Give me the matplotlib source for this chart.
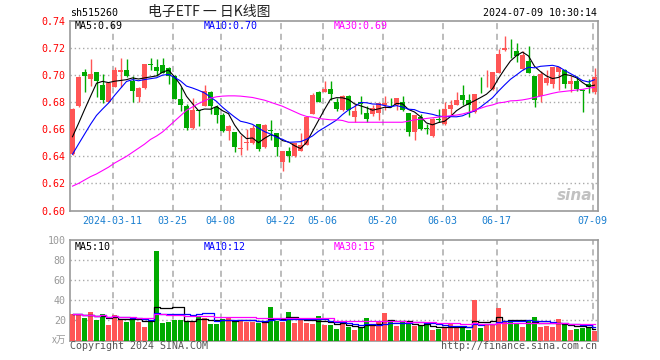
import matplotlib
matplotlib.use("Agg")
import matplotlib.pyplot as plt
import numpy as np
import pandas as pd

# candle data, one entry per trading day (2024-02-29 .. 2024-07-09)
opens = [0.6415, 0.6773, 0.7020, 0.6968, 0.7020, 0.6926, 0.6802, 0.6916, 0.7020, 0.7040,
         0.6960, 0.6835, 0.6904, 0.7081, 0.7057, 0.7072, 0.7052, 0.6990, 0.6825, 0.6773,
         0.6607, 0.6745, 0.6773, 0.6877, 0.6768, 0.6706, 0.6588, 0.6580, 0.6457, 0.6496,
         0.6496, 0.6637, 0.6466, 0.6592, 0.6570, 0.6355, 0.6442, 0.6400, 0.6440, 0.6484,
         0.6713, 0.6879, 0.6879, 0.6899, 0.6805, 0.6743, 0.6849, 0.6689, 0.6800, 0.6723,
         0.6713, 0.6723, 0.6780, 0.6780, 0.6780, 0.6805, 0.6718, 0.6583, 0.6689, 0.6603,
         0.6550, 0.6670, 0.6637, 0.6753, 0.6780, 0.6854, 0.6817, 0.6731, 0.6897, 0.6939,
         0.6896, 0.7015, 0.7183, 0.7207, 0.7180, 0.7047, 0.7101, 0.6990, 0.6849, 0.6941,
         0.6936, 0.7022, 0.7040, 0.6933, 0.6958, 0.6884, 0.6933, 0.6876]
highs = [0.6755, 0.6990, 0.7044, 0.7121, 0.7022, 0.7010, 0.6950, 0.7057, 0.7126, 0.7121,
         0.6990, 0.6910, 0.7079, 0.7128, 0.7121, 0.7126, 0.7060, 0.7002, 0.6911, 0.6785,
         0.6830, 0.6745, 0.6928, 0.6880, 0.6780, 0.6718, 0.6630, 0.6582, 0.6558, 0.6602,
         0.6632, 0.6640, 0.6637, 0.6669, 0.6572, 0.6442, 0.6466, 0.6498, 0.6570, 0.6689,
         0.6866, 0.6884, 0.6960, 0.6960, 0.6830, 0.6854, 0.6851, 0.6788, 0.6849, 0.6773,
         0.6780, 0.6797, 0.6847, 0.6830, 0.6832, 0.6847, 0.6723, 0.6706, 0.6713, 0.6637,
         0.6680, 0.6748, 0.6798, 0.6817, 0.6879, 0.6928, 0.6862, 0.6864, 0.6985, 0.7040,
         0.7022, 0.7193, 0.7291, 0.7267, 0.7237, 0.7175, 0.7212, 0.6992, 0.7027, 0.7040,
         0.7057, 0.7062, 0.7042, 0.6995, 0.6990, 0.6894, 0.6968, 0.7054]
lows = [0.6412, 0.6768, 0.6877, 0.6923, 0.6842, 0.6793, 0.6800, 0.6914, 0.6911, 0.6985,
        0.6798, 0.6798, 0.6900, 0.7040, 0.6990, 0.7015, 0.6933, 0.6825, 0.6738, 0.6595,
        0.6603, 0.6627, 0.6773, 0.6714, 0.6649, 0.6580, 0.6520, 0.6435, 0.6410, 0.6447,
        0.6489, 0.6439, 0.6460, 0.6521, 0.6402, 0.6289, 0.6355, 0.6398, 0.6438, 0.6482,
        0.6711, 0.6800, 0.6877, 0.6817, 0.6738, 0.6738, 0.6706, 0.6657, 0.6713, 0.6657,
        0.6699, 0.6669, 0.6743, 0.6765, 0.6743, 0.6738, 0.6550, 0.6520, 0.6595, 0.6565,
        0.6545, 0.6657, 0.6632, 0.6706, 0.6778, 0.6780, 0.6689, 0.6720, 0.6867, 0.6916,
        0.6891, 0.7013, 0.7181, 0.7126, 0.7096, 0.7040, 0.7013, 0.6768, 0.6798, 0.6928,
        0.6904, 0.6891, 0.6904, 0.6879, 0.6884, 0.6730, 0.6867, 0.6860]
closes = [0.6750, 0.6988, 0.6990, 0.7012, 0.6960, 0.6820, 0.6943, 0.7040, 0.7040, 0.6990,
          0.6884, 0.6904, 0.7079, 0.7078, 0.7027, 0.7017, 0.6990, 0.6825, 0.6780, 0.6607,
          0.6743, 0.6735, 0.6884, 0.6773, 0.6706, 0.6588, 0.6625, 0.6472, 0.6461, 0.6509,
          0.6612, 0.6452, 0.6632, 0.6590, 0.6466, 0.6442, 0.6400, 0.6496, 0.6485, 0.6689,
          0.6854, 0.6805, 0.6899, 0.6862, 0.6748, 0.6849, 0.6743, 0.6738, 0.6790, 0.6674,
          0.6760, 0.6792, 0.6797, 0.6777, 0.6830, 0.6743, 0.6583, 0.6706, 0.6602, 0.6600,
          0.6674, 0.6667, 0.6751, 0.6778, 0.6817, 0.6817, 0.6780, 0.6862, 0.6895, 0.6942,
          0.7020, 0.7158, 0.7200, 0.7205, 0.7138, 0.7151, 0.7015, 0.6817, 0.7007, 0.6978,
          0.7057, 0.7057, 0.6933, 0.6960, 0.6896, 0.6882, 0.6909, 0.6983]
# closes of the days just before the window, needed for MA5 / MA10
prev_closes = [0.624, 0.626, 0.628, 0.630, 0.635, 0.650, 0.648, 0.652, 0.6475]
# MA30 line as it appears on the chart
ma30 = [0.6180, 0.6200, 0.6225, 0.6250, 0.6270, 0.6295, 0.6320, 0.6350, 0.6375, 0.6400,
        0.6430, 0.6460, 0.6490, 0.6525, 0.6550, 0.6580, 0.6620, 0.6660, 0.6700, 0.6740,
        0.6765, 0.6790, 0.6810, 0.6830, 0.6840, 0.6845, 0.6847, 0.6847, 0.6845, 0.6840,
        0.6835, 0.6825, 0.6815, 0.6800, 0.6785, 0.6770, 0.6750, 0.6730, 0.6710, 0.6695,
        0.6690, 0.6680, 0.6675, 0.6670, 0.6670, 0.6665, 0.6652, 0.6652, 0.6652, 0.6652,
        0.6652, 0.6652, 0.6652, 0.6652, 0.6652, 0.6652, 0.6660, 0.6670, 0.6674, 0.6680,
        0.6685, 0.6690, 0.6695, 0.6700, 0.6705, 0.6713, 0.6725, 0.6740, 0.6755, 0.6770,
        0.6780, 0.6795, 0.6800, 0.6810, 0.6812, 0.6817, 0.6825, 0.6835, 0.6845, 0.6855,
        0.6866, 0.6875, 0.6880, 0.6885, 0.6890, 0.6895, 0.6904, 0.6910]
volumes = [26.2, 26.2, 22.5, 28.5, 20.5, 26.5, 15.5, 25.5, 21.2, 18.5,
           23.8, 18.5, 13.8, 20.5, 89.5, 17.5, 18.5, 20.5, 20.5, 19.5,
           19.5, 24.5, 22.5, 16.8, 16.8, 21.5, 22.5, 19.5, 20.5, 18.5,
           18.8, 17.8, 18.5, 33.8, 19.8, 18.8, 28.5, 17.8, 20.5, 17.8,
           16.5, 24.5, 15.8, 15.5, 11.8, 18.8, 13.8, 10.5, 13.2, 22.5,
           15.5, 18.8, 27.5, 19.8, 14.5, 18.5, 16.2, 14.8, 15.5, 15.5,
           10.5, 11.5, 13.8, 17.5, 13.2, 13.2, 10.5, 40.5, 12.8, 16.5,
           16.5, 32.5, 18.8, 18.8, 17.2, 13.8, 19.8, 23.5, 13.8, 14.8,
           13.8, 21.5, 16.2, 10.5, 11.8, 12.8, 13.8, 9.5]

date_idx = [7, 17, 25, 35, 42, 52, 62, 71, 87]
date_labels = ['2024-03-11', '03-25', '04-08', '04-22', '05-06', '05-20', '06-03', '06-17', '07-09']
price_ticks = [0.60, 0.62, 0.64, 0.66, 0.68, 0.70, 0.72, 0.74]
vol_ticks = [20, 40, 60, 80, 100]
price_ma_text = ['MA5:0.69', 'MA10:0.70', 'MA30:0.69']
vol_ma_text = ['MA5:10', 'MA10:12', 'MA30:15']

RED = '#ff5555'
GREEN = '#00aa00'
GRID = '#aaaaaa'
MONO = 'DejaVu Sans Mono'
W, H = 660, 360


def px_axes(fig, left, top, right, bottom):
    """Add an axes given by pixel edges of the 660x360 picture."""
    return fig.add_axes([left / W, 1 - bottom / H, (right - left) / W, (bottom - top) / H])


def style_frame(ax, hlines):
    for s in ax.spines.values():
        s.set_color('#999999')
        s.set_linewidth(1.2)
    for y in hlines:
        ax.axhline(y, color=GRID, lw=1, ls=(0, (1, 2)), zorder=0)
    for i in date_idx:
        ax.axvline(i - 1 / 3, color=GRID, lw=1.1, ls=(0, (4, 3)), zorder=0)
    ax.set_xlim(-5 / 12, 87.5)
    ax.tick_params(length=0)


fig = plt.figure(figsize=(6.6, 3.6), dpi=100)
fig.patch.set_facecolor('white')

o = np.array(opens)
h = np.array(highs)
l = np.array(lows)
c = np.array(closes)
x = np.arange(len(c))
up = c >= o
colors = np.where(up, RED, GREEN)

# price panel
ax = px_axes(fig, 70, 21, 597.5, 210.5)
style_frame(ax, price_ticks[1:-1])
ax.vlines(x, l, h, colors=colors, lw=1, zorder=2)
body = np.maximum(np.abs(c - o), 0.0006)
ax.bar(x, body, bottom=np.minimum(o, c), width=5 / 6, color=colors, lw=0, zorder=3)

full = pd.Series(prev_closes + closes)
ma5 = full.rolling(5).mean().values[len(prev_closes):]
ma10 = full.rolling(10).mean().values[len(prev_closes):]
ax.plot(x, ma5, color='black', lw=0.8, zorder=4)
ax.plot(x, ma10, color='#0000ff', lw=0.8, zorder=4)
ax.plot(x, ma30, color='#ff00ff', lw=0.8, zorder=4)

ax.set_ylim(0.60, 0.74)
ax.set_yticks(price_ticks)
ax.set_yticklabels([f'{t:.2f}' for t in price_ticks], color='#ff0000', family=MONO, fontsize=7.2)
ax.tick_params(axis='y', pad=3)
ax.set_xticks([i - 1 / 3 for i in date_idx])
ax.set_xticklabels(date_labels, color='#1a7fd0', family=MONO, fontsize=7.2)
ax.tick_params(axis='x', pad=4)

for txt, col, xp in zip(price_ma_text, ['black', '#0000ff', '#ff00ff'], [75, 204, 334]):
    fig.text(xp / W, 1 - 26 / H, txt, color=col, family=MONO, fontsize=7.2, va='center')
fig.text(592 / W, 1 - 196 / H, 'sina', color='#bbbbbb', fontsize=11, fontweight='bold',
         style='italic', ha='right', va='center', alpha=0.9)

# volume panel
vax = px_axes(fig, 70, 240, 597.5, 340.5)
style_frame(vax, vol_ticks[:-1])
vax.bar(x, volumes, width=5 / 6, color=colors, lw=0, zorder=3)
vs = pd.Series(volumes)
for win, col in [(5, 'black'), (10, '#0000ff'), (30, '#ff00ff')]:
    vax.plot(x, vs.rolling(win, min_periods=1).mean(), color=col, lw=0.9,
             drawstyle='steps-mid', zorder=4)
vax.set_ylim(0, 100)
vax.set_yticks(vol_ticks)
vax.set_yticklabels([str(t) for t in vol_ticks], color='#999999', family=MONO, fontsize=7.2)
vax.tick_params(axis='y', pad=3)
vax.set_xticks([])
fig.text(66 / W, 1 - 340 / H, 'x万', color='#999999', fontsize=7,
         family=['Noto Sans CJK SC', 'DejaVu Sans'], ha='right', va='center')

for txt, col, xp in zip(vol_ma_text, ['black', '#0000ff', '#ff00ff'], [75, 204, 334]):
    fig.text(xp / W, 1 - 247 / H, txt, color=col, family=MONO, fontsize=7.2, va='center')

# header and footer
fig.text(70 / W, 1 - 13 / H, 'sh515260', color='black', family=MONO, fontsize=7.2, va='center')
fig.text(209 / W, 1 - 12 / H, '电子ETF 一 日K线图', color='#222222', fontsize=10,
         family=['Noto Sans CJK SC', 'DejaVu Sans'], ha='center', va='center')
fig.text(597 / W, 1 - 13 / H, '2024-07-09 10:30:14', color='black', family=MONO,
         fontsize=7.2, ha='right', va='center')
fig.text(70 / W, 1 - 346 / H, 'Copyright 2024 SINA.COM', color='#555555', family=MONO,
         fontsize=7.2, va='center')
fig.text(597 / W, 1 - 346 / H, 'http://finance.sina.com.cn', color='#555555', family=MONO,
         fontsize=7.2, ha='right', va='center')

fig.savefig('out.png', dpi=100)
